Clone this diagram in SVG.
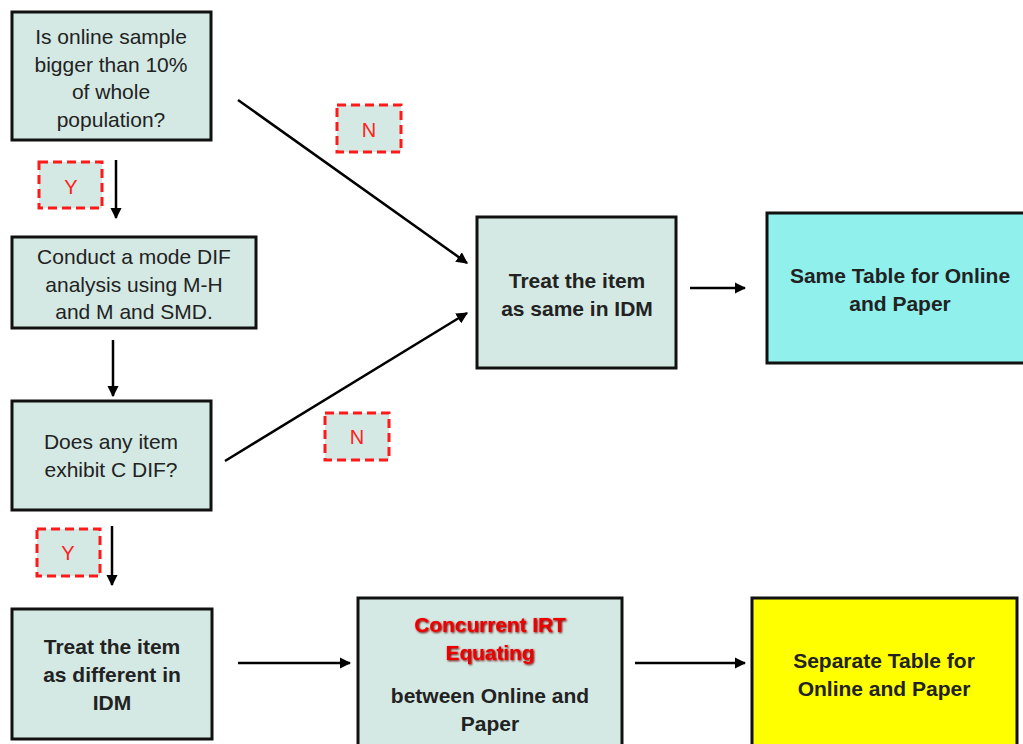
<svg xmlns="http://www.w3.org/2000/svg" width="1023" height="744" viewBox="0 0 1023 744">
<style>
.box{fill:#d4e9e3;stroke:#111;stroke-width:3}
.lbl{fill:#d4e9e3;stroke:#ff1a1a;stroke-width:3;stroke-dasharray:9 5}
.t{font-family:"Liberation Sans",Arial,sans-serif;font-size:21px;fill:#222;text-anchor:middle}
.b{font-weight:bold}
.r{font-family:"Liberation Sans",Arial,sans-serif;font-size:20px;fill:#ff2020;text-anchor:middle}
.edge{stroke:#000;stroke-width:2.5;fill:none;marker-end:url(#ah)}
</style>
<defs>
<marker id="ah" viewBox="0 0 10 10" refX="9" refY="5" markerWidth="4.6" markerHeight="4.6" orient="auto" markerUnits="strokeWidth">
<path d="M0,0 L10,5 L0,10 z" fill="#000"/>
</marker>
<filter id="sh" x="-10%" y="-30%" width="120%" height="160%">
<feGaussianBlur in="SourceAlpha" stdDeviation="1.2"/>
<feOffset dx="1" dy="1" result="o"/>
<feFlood flood-color="#700000"/>
<feComposite in2="o" operator="in"/>
<feMerge><feMergeNode/><feMergeNode in="SourceGraphic"/></feMerge>
</filter>
</defs>
<rect width="1023" height="744" fill="#fff"/>
<g id="connectors">
<line class="edge" x1="116" y1="160" x2="116" y2="218"/>
<line class="edge" x1="113" y1="340" x2="113" y2="396"/>
<line class="edge" x1="112" y1="526" x2="112" y2="585"/>
<line class="edge" x1="238" y1="663" x2="350" y2="663"/>
<line class="edge" x1="635" y1="663" x2="745" y2="663"/>
<line class="edge" x1="690" y1="288" x2="745" y2="288"/>
<line class="edge" x1="238" y1="100" x2="467" y2="263"/>
<line class="edge" x1="225" y1="461" x2="467" y2="313"/>
</g>
<g id="n1">
<rect class="box" x="12" y="12" width="199" height="128"/>
<text class="t" x="111" y="44">Is online sample</text>
<text class="t" x="111" y="72">bigger than 10%</text>
<text class="t" x="111" y="99">of whole</text>
<text class="t" x="111" y="127">population?</text>
</g>
<g id="y1">
<rect class="lbl" x="39" y="162" width="63" height="46"/>
<text class="r" x="71" y="194">Y</text>
</g>
<g id="n2">
<rect class="box" x="12" y="237" width="244" height="91"/>
<text class="t" x="134" y="264">Conduct a mode DIF</text>
<text class="t" x="134" y="292">analysis using M-H</text>
<text class="t" x="134" y="319">and M and SMD.</text>
</g>
<g id="n3">
<rect class="box" x="12" y="401" width="199" height="109"/>
<text class="t" x="111" y="449">Does any item</text>
<text class="t" x="111" y="477">exhibit C DIF?</text>
</g>
<g id="y2">
<rect class="lbl" x="37" y="529" width="63" height="47"/>
<text class="r" x="68" y="560">Y</text>
</g>
<g id="n4">
<rect class="box" x="12" y="609" width="200" height="130"/>
<text class="t b" x="112" y="654">Treat the item</text>
<text class="t b" x="112" y="682">as different in</text>
<text class="t b" x="112" y="710">IDM</text>
</g>
<g id="n5">
<rect class="box" x="358" y="598" width="264" height="150"/>
<g filter="url(#sh)">
<text class="t b" x="490" y="632" style="fill:#ee0000;letter-spacing:-0.1px">Concurrent IRT</text>
<text class="t b" x="490" y="660" style="fill:#ee0000;letter-spacing:-0.1px">Equating</text>
</g>
<text class="t" x="490" y="703" style="font-weight:600">between Online and</text>
<text class="t" x="490" y="731" style="font-weight:600">Paper</text>
</g>
<g id="n6">
<rect class="box" x="752" y="598" width="265" height="150" style="fill:#ffff00"/>
<text class="t b" x="884" y="668">Separate Table for</text>
<text class="t b" x="884" y="696">Online and Paper</text>
</g>
<g id="n7">
<rect class="box" x="477" y="217" width="199" height="151"/>
<text class="t b" x="577" y="288">Treat the item</text>
<text class="t b" x="577" y="316">as same in IDM</text>
</g>
<g id="n8">
<rect class="box" x="767" y="213" width="260" height="150" style="fill:#8ff0ec"/>
<text class="t b" x="900" y="283">Same Table for Online</text>
<text class="t b" x="900" y="311">and Paper</text>
</g>
<g id="nl1">
<rect class="lbl" x="337" y="105" width="64" height="47"/>
<text class="r" x="369" y="137">N</text>
</g>
<g id="nl2">
<rect class="lbl" x="325" y="413" width="64" height="47"/>
<text class="r" x="357" y="444">N</text>
</g>
</svg>
